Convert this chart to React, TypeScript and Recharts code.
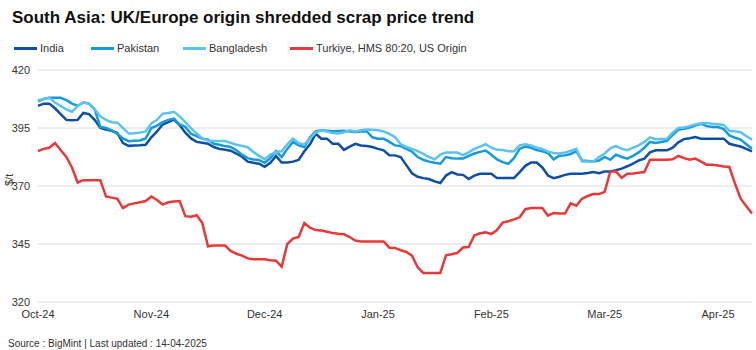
import { CartesianGrid, Line, LineChart, XAxis, YAxis } from 'recharts';

// x axis: about 20 trading days per month, first point of each month gets a label
const monthLabels = ['Oct-24', 'Nov-24', 'Dec-24', 'Jan-25', 'Feb-25', 'Mar-25', 'Apr-25'];
const pointsPerMonth = 20;
const yTicks = [320, 345, 370, 395, 420];

const india = [
  404.5, 405.5, 405.5, 403.5, 401, 398.5, 398.3, 398.5, 401.5, 401, 398.5, 395, 394.3, 393.8, 392.8, 388.5, 387.3, 387.5, 387.6, 387.8,
  391, 393.5, 396.5, 397.5, 398.6, 396.2, 393, 390.5, 389, 388.6, 388.2, 386.8, 386, 385.6, 385.2, 384, 382.6, 380.5, 380, 379.6, 378.3, 380, 383,
  380.1, 380.1, 380.5, 381.2, 385, 388, 392.5, 390.4, 390.4, 388.2, 388.2, 385.6, 387, 388.2, 387.5, 387.2, 386.8, 386, 385.4, 383.3, 383.2,
  382.5, 379, 375.5, 374, 373.4, 373, 372, 371.3, 374.5, 376, 375, 374.8, 373, 374.5, 375.3, 375.3, 375.3, 373.4, 373.4, 373.4, 373.4,
  376, 378.7, 380.1, 380.1, 378, 374.5, 373.4, 374, 374.8, 375.3, 375.3, 375.3, 375.6, 376, 375.5, 376.2, 376.3, 376.8, 377.5, 378.5, 379.6,
  381, 381.8, 384.5, 385.4, 385.4, 385.4, 386.5, 388.8, 390.2, 390.6, 391.1, 390.4, 390.4, 390.4, 390.4, 390.4, 388.2, 387.6, 387, 386, 384.9,
];

const pakistan = [
  406.5, 407.5, 408, 408, 408, 407, 405.5, 404.5, 406, 405.5, 403, 395.5, 395, 394, 392.5, 390.5, 389.3, 389.5, 389.6, 390.5,
  395, 396, 397.5, 398.5, 399, 396.5, 395.5, 392.5, 391.5, 390.4, 390, 388.2, 387.8, 387.2, 386.8, 385.4, 383.5, 382, 381.4, 381.2, 380,
  382, 385, 382.5, 386, 389, 387.5, 386.8, 391, 393.5, 394, 393.8, 393.6, 393.7, 393.8, 393.5, 393.3, 393.5, 393.6, 391, 390.4, 390.4, 389, 387.5,
  387.2, 386, 384.8, 382.5, 381.3, 380.5, 380, 379.6, 382.5, 382, 381.8, 381.8, 383, 384, 384.7, 385.3, 383.5, 381.5, 380.3, 379.6, 382,
  386, 387, 386.5, 385.5, 385, 384.2, 381.5, 383, 383.2, 383.8, 385, 381, 380.8, 380.6, 381, 382.5, 381.3, 383.5, 382.5, 381.8, 383,
  384.5, 386.5, 389, 388.5, 389, 389.5, 392, 394.2, 394.7, 395.2, 396, 396.8, 395.8, 395.4, 395.4, 394.5, 391.8, 390.8, 390, 388, 386.1,
];

const bangladesh = [
  407, 407.5, 408, 406, 404.5, 403, 402, 404.5, 406, 405.5, 403, 400, 398.5, 397.5, 397.3, 395, 392.6, 392.7, 393, 393.5, 397,
  398.5, 401.2, 401.5, 402, 400, 397.5, 395, 392.6, 390.5, 389.6, 389.4, 389.4, 389.4, 388.6, 387.8, 387.3, 386.7, 384.7, 383, 381.5,
  383.5, 384.7, 385, 388, 390.4, 388.5, 387.8, 390.5, 393, 394, 393.5, 392.8, 392.6, 393.2, 394, 393.5, 394, 394.4, 394.2, 394, 393.5, 392.5, 391.1,
  388, 386.8, 386, 385, 383.8, 382.5, 381.5, 383.5, 384.4, 384.4, 384.4, 383.3, 384.5, 386, 387, 388, 386.5, 385.6, 385.5, 385, 385,
  387.5, 388, 387.5, 386.5, 386, 384.8, 384.2, 384, 384.4, 385.2, 386, 380.6, 380.6, 380.6, 382.5, 384, 386.2, 387.3, 386, 385.4, 386.5,
  387.5, 389, 391, 390.2, 390.3, 390.4, 393, 395, 395.2, 395.8, 396.5, 397, 397.1, 396.8, 396.6, 396.3, 393.8, 393.6, 393.2, 391.5, 390,
];

const turkiye = [
  385, 386, 386.5, 388.5, 385.5, 382.5, 378, 371.5, 372.5, 372.5, 372.5, 372.5, 365.5, 365, 364.5, 360.5, 362, 362.5, 363, 363.5,
  365.5, 364, 362, 363, 363.3, 363.5, 357, 356.8, 357.4, 354, 344, 344.4, 344.4, 344.4, 342, 340.8, 340, 338.8, 338.4, 338.4, 338.4, 338,
  337.8, 335.2, 345, 347.3, 348, 354, 352, 351, 350.8, 350.3, 349.7, 349.4, 349.2, 348, 346.5, 346.1, 346.1, 346.1, 346.1, 346.1, 343.4, 343.3,
  342.3, 341.6, 340, 335, 332.5, 332.5, 332.5, 332.5, 340.1, 340.6, 341.2, 343.5, 343.7, 348.7, 349.6, 350, 349.3, 351, 354.2, 354.8, 355.6,
  356.5, 360, 360.5, 360.5, 360.5, 357.2, 358.4, 358.1, 358.1, 362.5, 361.5, 364.5, 365.7, 366.5, 366.5, 367.5, 376.3, 376.3, 373.5, 375.3, 375.4,
  375.7, 376, 381.3, 381.3, 381.3, 381.3, 381.5, 383, 382, 381.3, 381.8, 380.5, 379.2, 379.2, 378.8, 378.4, 378.2, 371, 364.5, 361.3, 358.1,
];

const series = [
  { key: 'india', name: 'India', color: '#0f4fa3', values: india },
  { key: 'pakistan', name: 'Pakistan', color: '#169ad8', values: pakistan },
  { key: 'bangladesh', name: 'Bangladesh', color: '#5cc3f0', values: bangladesh },
  { key: 'turkiye', name: 'Turkiye, HMS 80:20, US Origin', color: '#e8393a', values: turkiye },
];

const data = india.map((_, i) => {
  const row: Record<string, number> = { i };
  series.forEach((s) => {
    row[s.key] = s.values[i];
  });
  return row;
});

const xTicks = monthLabels.map((_, m) => m * pointsPerMonth);

const font = '"Liberation Sans", Arial, sans-serif';

const App = () => {
  return (
    <div style={{ position: 'fixed', left: 0, top: 0, width: 756, height: 350, background: '#fff', fontFamily: font }}>
      <div style={{ position: 'absolute', left: 12, top: 8, fontSize: 17, fontWeight: 700, color: '#111', lineHeight: '20px' }}>
        South Asia: UK/Europe origin shredded scrap price trend
      </div>
      <div style={{ position: 'absolute', left: 14, top: 41, display: 'flex', fontSize: 11, color: '#333', lineHeight: '14px' }}>
        {series.map((s, idx) => (
          <div key={s.key} style={{ display: 'flex', alignItems: 'center', width: [77, 92, 107, 300][idx] }}>
            <span style={{ display: 'inline-block', width: 23, height: 3, background: s.color, marginRight: 3 }} />
            {s.name}
          </div>
        ))}
      </div>
      <div style={{ position: 'absolute', left: 0, top: 0 }}>
        <LineChart width={756} height={350} data={data} margin={{ top: 70, right: 4, bottom: 28, left: 0 }}>
          <CartesianGrid vertical={false} stroke='#dcdcdc' />
          <XAxis
            dataKey='i'
            type='number'
            domain={[0, india.length - 1]}
            ticks={xTicks}
            tickFormatter={(v: number) => monthLabels[Math.round(v / pointsPerMonth)]}
            axisLine={false}
            tickLine={false}
            height={20}
            tick={{ fontSize: 11, fill: '#333', fontFamily: font }}
          />
          <YAxis
            domain={[320, 420]}
            ticks={yTicks}
            width={38}
            axisLine={false}
            tickLine={false}
            tick={{ fontSize: 11, fill: '#333', fontFamily: font }}
            label={{ value: '$/t', angle: -90, position: 'insideLeft', offset: 9, style: { fontSize: 11, fill: '#333', fontFamily: font } }}
          />
          {series.map((s) => (
            <Line
              key={s.key}
              dataKey={s.key}
              name={s.name}
              stroke={s.color}
              strokeWidth={2.5}
              dot={false}
              type='linear'
              isAnimationActive={false}
            />
          ))}
        </LineChart>
      </div>
      <div style={{ position: 'absolute', left: 8, top: 338, fontSize: 10, color: '#333' }}>
        Source : BigMint | Last updated : 14-04-2025
      </div>
    </div>
  );
};

export default App;
